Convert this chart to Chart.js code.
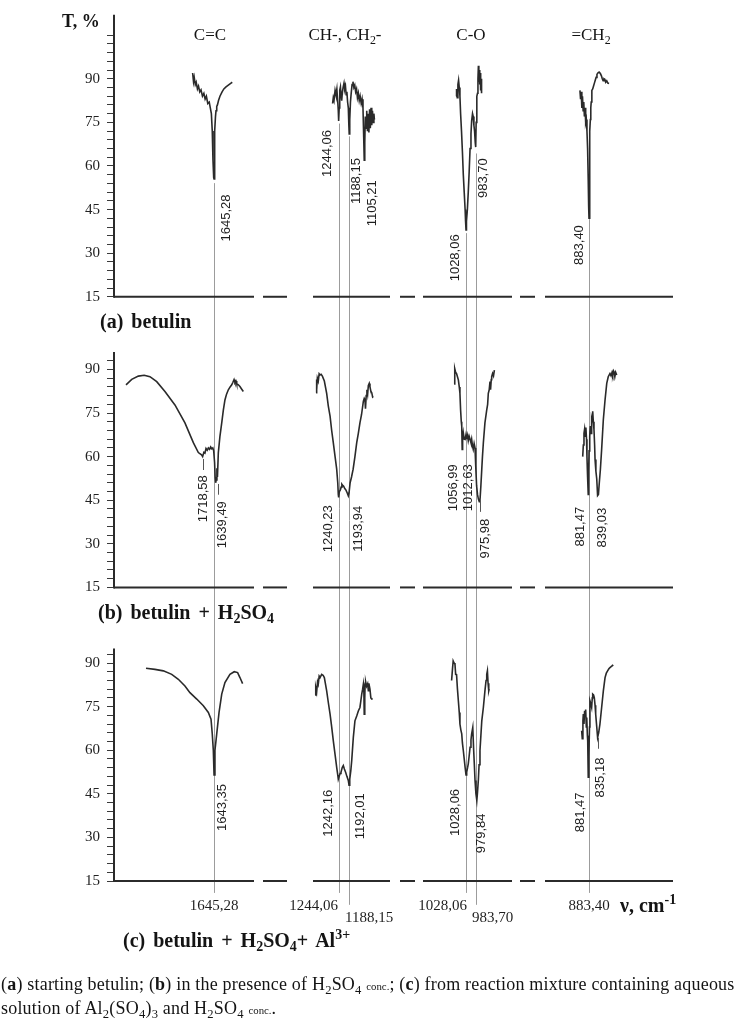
<!DOCTYPE html>
<html>
<head>
<meta charset="utf-8">
<script src="https://cdn.jsdelivr.net/npm/chart.js@4.4.1/dist/chart.umd.min.js"></script>
<style>
  body { margin: 0; background: #fff; }
  #wrap { position: relative; width: 743px; height: 1020px; font-family: 'Liberation Serif', 'Times New Roman', serif; color: #141414; }
  canvas { position: absolute; left: 0; top: 0; }
  .t { position: absolute; white-space: nowrap; line-height: 1; transform: translateY(-50%); }
  .h { position: absolute; white-space: nowrap; line-height: 1; transform: translate(-50%, -50%); font-size: 17px; }
  .b { font-weight: bold; }
  .pl { font-size: 20px; font-weight: bold; word-spacing: 3px; }
  sub { font-size: .7em; vertical-align: baseline; position: relative; top: .3em; }
  sup { font-size: .7em; vertical-align: baseline; position: relative; top: -.55em; }
  .cap { position: absolute; left: 1px; top: 973px; font-size: 18px; letter-spacing: .2px; line-height: 22px; white-space: nowrap; }
  .cap small { font-size: .6em; letter-spacing: 0; }
</style>
</head>
<body>
<div id="wrap">
  <canvas id="ir" width="743" height="1020"></canvas>
  <div class="t b" style="left:62px;top:21px;font-size:18px">T, %</div>
  <div class="h" style="left:210px;top:34px">C=C</div>
  <div class="h" style="left:345px;top:34px">CH-, CH<sub>2</sub>-</div>
  <div class="h" style="left:471px;top:34px">C-O</div>
  <div class="h" style="left:591px;top:34px">=CH<sub>2</sub></div>
  <div class="t pl" style="left:100px;top:321px">(a) betulin</div>
  <div class="t pl" style="left:98px;top:612px">(b) betulin + H<sub>2</sub>SO<sub>4</sub></div>
  <div class="t pl" style="left:123px;top:940px">(c) betulin + H<sub>2</sub>SO<sub>4</sub>+ Al<sup>3+</sup></div>
  <div class="t b" style="left:620px;top:905px;font-size:20px">&#957;, cm<sup>-1</sup></div>
  <div class="cap">(<b>a</b>) starting betulin; (<b>b</b>) in the presence of H<sub>2</sub>SO<sub>4</sub> <small>conc.</small>; (<b>c</b>) from reaction mixture containing aqueous<br>solution of Al<sub>2</sub>(SO<sub>4</sub>)<sub>3</sub> and H<sub>2</sub>SO<sub>4</sub> <small>conc.</small>.</div>
</div>
<script>
// spectra: [wavenumber cm-1, T %], one array per panel and window
// (a) betulin
var betulinCC = [[1765,92],[1760,89],[1756,90.5],[1750,88],[1745,88.8],[1738,86.5],[1732,87.5],[1725,85.5],[1718,86.2],[1710,84],[1702,85],[1695,83],[1688,84],[1680,81.5],[1672,82],[1666,80],[1660,78],[1655,72],[1651,62],[1647,56],[1645,55.5],[1643,60],[1640,72],[1637,77],[1634,79],[1630,80.5],[1626,81],[1620,82.5],[1612,84],[1600,85.5],[1590,86.5],[1578,87.2],[1565,87.8],[1550,88.5],[1543,88.8]];
var betulinCH = [[1280,81.5],[1276,83.5],[1272,82.5],[1266,86],[1261,84.5],[1256,86.5],[1251,82],[1248,79],[1246,75.5],[1243,80],[1240,86],[1236,87.2],[1232,84],[1229,82.5],[1225,85.5],[1221,87],[1216,88.5],[1212,86.5],[1208,87.5],[1204,84.5],[1200,85.5],[1196,82],[1192,80],[1189,74],[1187,71],[1184,76],[1180,82],[1176,85],[1171,88],[1166,89],[1161,87],[1156,87.8],[1151,85.5],[1146,86.5],[1141,83.5],[1136,85],[1131,82.5],[1126,84],[1120,81.5],[1115,83],[1110,80],[1106,70],[1103,62],[1100,68],[1097,77],[1093,73],[1089,79],[1085,72],[1081,78],[1077,71.5],[1073,79.5],[1069,73],[1065,80],[1061,74],[1057,79],[1053,75],[1049,78],[1046,76]];
var betulinCO = [[1072,84],[1070,86.5],[1067,83.5],[1064,88],[1061,89.5],[1058,87],[1055,84],[1052,78],[1048,72],[1044,65],[1040,57],[1036,51],[1032,45],[1030,41],[1028,38],[1026,41],[1022,45],[1018,51],[1014,58],[1010,66],[1006,71],[1003,75.5],[999,78],[996,77],[993,74],[990,72],[987,68],[985,66.5],[983,75],[980,84],[977,85],[975,90],[973,94.5],[971,89],[969,93],[967,88],[965,92],[963,86],[961,90],[959,85]];
var betulinCH2 = [[926,86],[923,83],[920,85.5],[917,80],[914,84],[911,79],[908,82],[905,77],[902,80],[899,75],[896,76],[893,72],[890,66],[887,55],[885,46],[883.4,42],[881,56],[879,72],[877,76],[875,80],[873,82],[870,86],[866,86.5],[862,87.5],[858,88.5],[854,89.5],[850,90.5],[846,91.5],[842,92],[836,92.3],[830,91.8],[825,91],[821,90],[817,89.3],[813,90],[809,89.8],[805,88.8],[800,89.3],[795,88.5],[789,88.4]];
// (b) betulin + H2SO4
var acidCC = [[2138,84.7],[2106,86.6],[2069,87.7],[2036,88],[2004,87.5],[1966,85.8],[1920,82.4],[1864,77.8],[1808,71.6],[1761,64.8],[1733,61.4],[1715,60.6],[1709,60],[1702,61.5],[1696,61.2],[1690,62.8],[1683,62.2],[1677,63],[1670,62.5],[1664,63.3],[1658,62.7],[1652,63],[1647,62],[1642,58],[1639,53],[1636,51],[1633,52],[1629,56],[1626,53],[1621,61.4],[1612,67],[1602,71.6],[1593,76],[1584,79.5],[1575,81.5],[1565,83],[1555,84],[1546,84.7],[1540,85.5],[1533,86.5],[1528,85.5],[1522,86],[1518,85],[1510,84.8],[1500,84.1],[1490,83.2],[1481,82.4]];
var acidCH = [[1372,82],[1370,86.5],[1368,83],[1365,87],[1360,86],[1355,88.5],[1350,88.1],[1344,88.3],[1337,87.7],[1326,86],[1313,81.8],[1304,77.5],[1294,73.9],[1285,69],[1276,64.8],[1266,60],[1257,55.7],[1251,51],[1248,47],[1246,46],[1242,48],[1237,48.5],[1232,49.5],[1228,50.5],[1222,50],[1218,49.8],[1212,49],[1205,48.5],[1198,47.5],[1192,46.5],[1188,47.5],[1182,51],[1174,53],[1165,55.7],[1155,60],[1145,64.8],[1136,68],[1127,71.6],[1118,74.5],[1108,79],[1103,80],[1099,79.5],[1096,76.5],[1092,81],[1088,83],[1084,81.5],[1080,84.5],[1075,85.2],[1071,84],[1066,82.5],[1061,82],[1056,80.5],[1052,80.7]];
var acidCO = [[1081,85],[1079,89.8],[1077,90.3],[1074,89],[1070,88.6],[1066,87.5],[1062,86.4],[1058,84],[1055,81.8],[1052,76],[1049,72],[1047,70.5],[1045,62.5],[1043,66],[1040,68.2],[1036,66],[1032,65.9],[1028,67.6],[1024,66],[1021,67.2],[1018,65.5],[1014,67],[1010,66],[1006,64.8],[1003,66],[999,63.5],[996,62.5],[992,64.5],[988,63],[985,57],[981,50],[977,47],[973,45.4],[969,44.5],[966,44.9],[962,50],[958,55.7],[955,60],[951,64.8],[944,71.6],[936,76.1],[932,78],[929,81.8],[925,83],[921.5,85.8],[919,83],[916,86.5],[914,87.5],[910,88.6],[906,87.8],[902,89.8]];
var acidCH2 = [[913,60],[910,64],[907,68],[904,69.5],[901,67],[898,70],[895,66],[893,60],[890,53],[887,47],[885,55],[883,62],[880,67],[877,70.5],[874,68],[871,73],[868,72],[866,75.6],[863,72],[860,69.3],[857,64],[855,59],[851,55],[847,52.3],[843,46.6],[839,47],[835,51],[830,55.5],[824,62.5],[816,72.8],[808,79.5],[800,85.2],[793,87.5],[785,88.6],[780,87.8],[775,89],[772,88.1],[768,89.5],[766,89.2],[762,87.5],[758,89],[753,88.1]];
// (c) betulin + H2SO4 + Al3+
var alumCC = [[2026,88.2],[1976,87.8],[1929,87.3],[1882,86.1],[1845,84.4],[1808,82.1],[1780,79.8],[1742,77.6],[1705,75.3],[1677,73],[1662,70.7],[1655,65.6],[1649,59.9],[1645,51.5],[1640,59.9],[1630,65.6],[1617,73],[1602,79.3],[1584,83.3],[1556,86.1],[1532,87],[1513,86.7],[1500,85],[1485,82.9]];
var alumCH = [[1378,79],[1374,81.5],[1369,80],[1364,83.5],[1360,82.7],[1355,85.5],[1350,85],[1341,86.1],[1333,85.8],[1326,85],[1313,80.4],[1304,76.5],[1294,72.4],[1285,68],[1276,63.3],[1266,58.5],[1257,54.1],[1251,51.5],[1248,50],[1243,51],[1238,52],[1233,52.4],[1226,54],[1220,54.7],[1214,53.5],[1207,52.4],[1200,51],[1192,49.6],[1188,48],[1184,50],[1178,53],[1173,56.4],[1164,64.4],[1155,70.1],[1145,71.8],[1136,73.5],[1127,74.7],[1122,77],[1117,79.3],[1112,81],[1108,82.7],[1105,80],[1103,72.4],[1100,78],[1098,83],[1095,83.5],[1090,82],[1084,82.9],[1080,80.5],[1077,83],[1071,81],[1066,78],[1061,77.6],[1056,77.8]];
var alumCO = [[1092,84],[1088,88],[1085,90.7],[1081,90],[1077,89.6],[1074,86.1],[1070,86],[1066,81],[1062,77],[1058,73],[1055,69],[1051,67],[1047,65.6],[1044,62.5],[1040,59.9],[1036,57],[1032,54.1],[1028,51.5],[1025,52.5],[1021,54],[1018,55.3],[1014,58],[1010,61],[1006,63.5],[1003,65.6],[998,67.8],[994,60],[991,55],[988,49.6],[984,45],[980,42.7],[977,45.5],[973,50],[970,55],[966,59.9],[962,65],[958,70.1],[951,74.7],[944,80.4],[939,84],[936,86.1],[933,87.3],[930,83],[927,80.4],[925,81]];
var alumCH2 = [[918,66.7],[915,64],[912,70],[910,72.4],[907,69],[904,73.6],[902,72],[899,74],[896,68],[894,71.2],[891,65],[889.5,63.3],[887,50.7],[884,58],[881,68],[879,77],[875,76],[871,74.7],[868,78],[866,79.3],[862,79],[858.5,78.1],[855,75.5],[852,72.4],[847,68],[843,64.4],[838,66],[832,69],[824,74.7],[816,80.4],[808,85],[802,86.5],[796,87.3],[790,88],[785,88.4],[778,88.8],[773,89.2],[769,89]];

var yTickLabels = [15, 30, 45, 60, 75, 90];
// marked bands: [window, wavenumber, T where it leaves panel (a), T where it ends under panel (c)]
var bandLines = [[0,1645.28,54.1,10.9],[1,1244.06,74.6,10.9],[1,1188.15,70.2,6.8],[2,1028.06,36.9,10.9],[2,983.70,64.3,6.8],[3,883.40,41.7,10.9]];
var bandTexts = ['1645,28','1244,06','1188,15','1028,06','983,70','883,40'];

// layout of the broken axis: each window maps wavenumber to axis units (1 unit = 1 px)
var windows = [{nu0:1645.28,u0:100,k:5.6},{nu0:1244.06,u0:225,k:5.59},{nu0:1028.06,u0:352,k:4.44},{nu0:883.40,u0:475,k:4.7}];
var axisPieces = [[0,140],[149,173],[199,276],[286,301],[309,398],[406,421],[431,559]];
var panelBase = [201, 101, 0];
var panelTop = [112, 96, 95];
var panelTickTop = [105, 93, 93];

// rotated peak labels: [panel, window, text, dx px, T of label centre]
var peakLabels = [
  [0,0,'1645,28',12,42.1],[0,1,'1244,06',-12,64.3],[0,1,'1188,15',7,54.8],[0,1,'1105,21',9,47.2],
  [0,2,'1028,06',-11,28.4],[0,2,'983,70',7,55.8],[0,3,'883,40',-10,32.8],
  [1,0,'1718,58',2.4,45.5],[1,0,'1639,49',7.7,36.6],[1,1,'1240,23',-11.7,35.2],[1,1,'1193,94',10,35.2],
  [1,2,'1056,99',-6.5,49.3],[1,2,'1012,63',-1.5,49.3],[1,2,'975,98',7.3,31.8],[1,3,'881,47',-9.4,35.9],[1,3,'839,03',3.6,35.6],
  [2,0,'1643,35',8.4,40.3],[2,1,'1242,16',-11,38.3],[2,1,'1192,01',11.7,37.3],[2,2,'1028,06',-11,38.6],
  [2,2,'979,84',5,31.4],[2,3,'881,47',-8.7,38.6],[2,3,'835,18',0.7,50.6]
];
var leaders = [[1,0,1718.58,2,59.2,55.4],[1,0,1639.49,3,50.6,46.9],[1,2,975.98,2.3,45.5,41],[2,3,835.18,-1.3,64.3,60.5]];
// bottom labels: [align, dx, T under panel (c)]
var bandTextPos = [['center',0,6.4],['right',-1,6.4],['left',-4,2.4],['right',1,6.4],['left',-4,2.4],['center',0,6.4]];

function toU(w, nu) { var s = windows[w]; return s.u0 + (s.nu0 - nu) / s.k; }
function panelOf(v) { return v >= panelBase[0] + 10 ? 0 : (v >= panelBase[1] + 10 ? 1 : 2); }

var tickVals = [];
panelBase.forEach(function(b, i) {
  for (var t = 15; t <= panelTickTop[i]; t += 3) tickVals.push(b + t);
});

var series = [
  [0,0,betulinCC],[0,1,betulinCH],[0,2,betulinCO],[0,3,betulinCH2],
  [1,0,acidCC],[1,1,acidCH],[1,2,acidCO],[1,3,acidCH2],
  [2,0,alumCC],[2,1,alumCH],[2,2,alumCO],[2,3,alumCH2]
];
var datasets = series.map(function(s) {
  return {
    data: s[2].map(function(p) { return {x: toU(s[1], p[0]), y: p[1] + panelBase[s[0]]}; }),
    borderColor: '#2a2a2a', borderWidth: 1.6, pointRadius: 0, tension: 0, fill: false
  };
});

var irDecor = {
  id: 'irDecor',
  beforeDatasetsDraw: function(chart) {
    var ctx = chart.ctx, xs = chart.scales.x, ys = chart.scales.y;
    ctx.save();
    ctx.strokeStyle = '#9c9c9c'; ctx.lineWidth = 1;
    bandLines.forEach(function(l) {
      var px = Math.round(xs.getPixelForValue(toU(l[0], l[1]))) + 0.5;
      ctx.beginPath();
      ctx.moveTo(px, ys.getPixelForValue(l[2] + panelBase[0]));
      ctx.lineTo(px, ys.getPixelForValue(l[3] + panelBase[2]));
      ctx.stroke();
    });
    ctx.restore();
  },
  afterDatasetsDraw: function(chart) {
    var ctx = chart.ctx, xs = chart.scales.x, ys = chart.scales.y, left = chart.chartArea.left;
    ctx.save();
    ctx.strokeStyle = '#2b2b2b'; ctx.lineWidth = 2;
    panelBase.forEach(function(b, i) {
      var y0 = ys.getPixelForValue(b + 15);
      axisPieces.forEach(function(p) {
        ctx.beginPath(); ctx.moveTo(xs.getPixelForValue(p[0]), y0); ctx.lineTo(xs.getPixelForValue(p[1]), y0); ctx.stroke();
      });
      ctx.beginPath(); ctx.moveTo(left, y0 + 1); ctx.lineTo(left, ys.getPixelForValue(b + panelTop[i])); ctx.stroke();
    });

    ctx.fillStyle = '#1e1e1e';
    ctx.font = '13px "Liberation Sans", Arial, sans-serif';
    ctx.textAlign = 'center'; ctx.textBaseline = 'middle';
    peakLabels.forEach(function(l) {
      var nu = parseFloat(l[2].replace(',', '.'));
      var px = xs.getPixelForValue(toU(l[1], nu)) + l[3];
      var py = ys.getPixelForValue(l[4] + panelBase[l[0]]);
      ctx.save(); ctx.translate(px, py); ctx.rotate(-Math.PI / 2); ctx.fillText(l[2], 0, 0); ctx.restore();
    });

    ctx.strokeStyle = '#555'; ctx.lineWidth = 1;
    leaders.forEach(function(l) {
      var px = Math.round(xs.getPixelForValue(toU(l[1], l[2])) + l[3]) + 0.5;
      ctx.beginPath();
      ctx.moveTo(px, ys.getPixelForValue(l[4] + panelBase[l[0]]));
      ctx.lineTo(px, ys.getPixelForValue(l[5] + panelBase[l[0]]));
      ctx.stroke();
    });

    ctx.font = '15px "Liberation Serif", "Times New Roman", serif';
    bandLines.forEach(function(l, i) {
      var pos = bandTextPos[i];
      ctx.textAlign = pos[0];
      ctx.fillText(bandTexts[i], xs.getPixelForValue(toU(l[0], l[1])) + pos[1], ys.getPixelForValue(pos[2] + panelBase[2]));
    });
    ctx.restore();
  }
};

new Chart(document.getElementById('ir').getContext('2d'), {
  type: 'line',
  data: { datasets: datasets },
  options: {
    responsive: false,
    animation: false,
    layout: { padding: { left: 0, right: 70, top: 12, bottom: 139 } },
    plugins: { legend: { display: false }, tooltip: { enabled: false } },
    scales: {
      x: { type: 'linear', min: 0, max: 559, display: false },
      y: {
        type: 'linear', min: 15, max: 312.6,
        afterBuildTicks: function(s) { s.ticks = tickVals.map(function(v) { return {value: v}; }); },
        afterFit: function(s) { s.width = 114; },
        border: { display: false },
        grid: { drawOnChartArea: false, drawTicks: true, tickLength: 7, tickColor: '#3a3a3a', tickWidth: 1 },
        ticks: {
          autoSkip: false, padding: 7, color: '#222',
          font: { family: "'Liberation Serif', 'Times New Roman', serif", size: 15 },
          callback: function(v) {
            var t = Math.round(v - panelBase[panelOf(v)]);
            return yTickLabels.indexOf(t) >= 0 ? String(t) : '';
          }
        }
      }
    }
  },
  plugins: [irDecor]
});
</script>
</body>
</html>
